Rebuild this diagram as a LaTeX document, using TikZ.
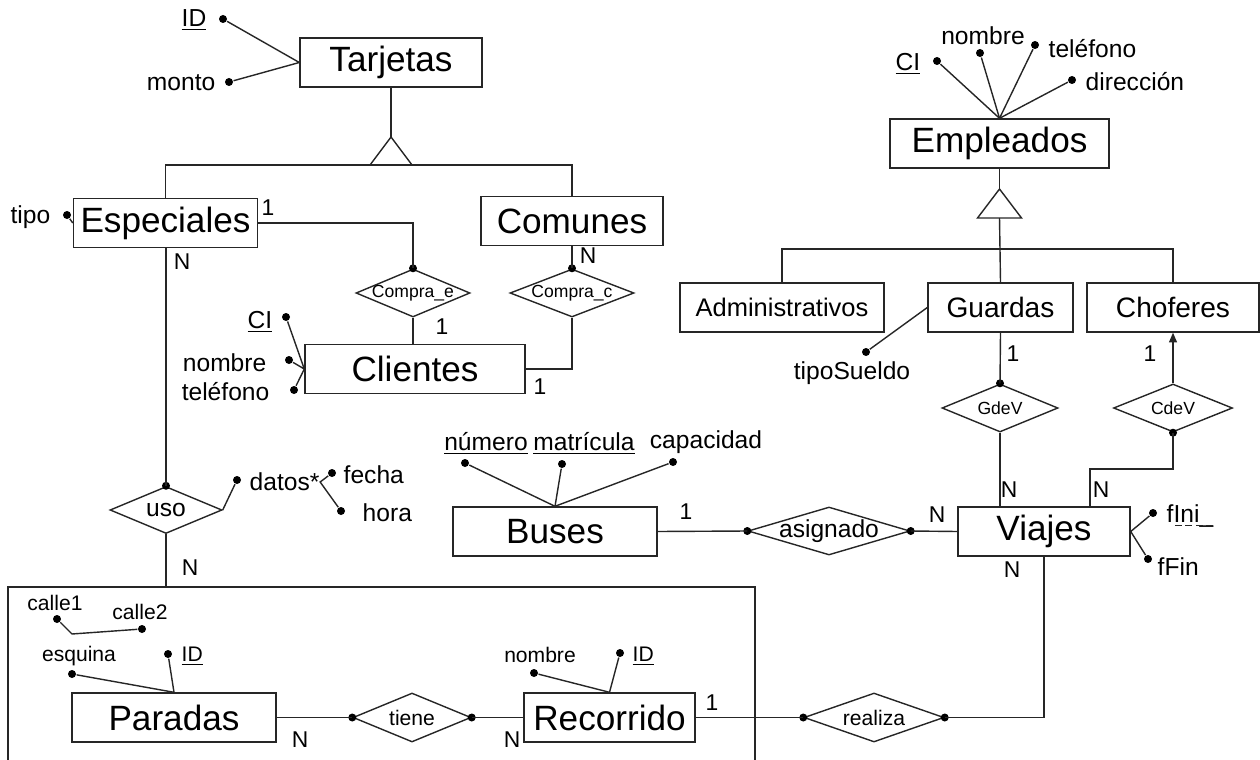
\documentclass[tikz,border=0pt]{standalone}
\usepackage{fontspec}
\setmainfont{Liberation Sans}
\usetikzlibrary{positioning,shapes.geometric,arrows.meta}

\def\px{0.02cm}

\begin{document}
\begin{tikzpicture}[x=\px,y=-\px,line width=0.8pt,draw=black!85,
	ent/.style={draw, rectangle, inner sep=0pt, minimum width=#1*\px, minimum height=49*\px, font=\fontsize{20}{24}\selectfont},
	sub/.style={draw, rectangle, inner sep=0pt, minimum width=#1*\px, minimum height=49*\px, font=\fontsize{16}{19}\selectfont},
	rel/.style 2 args={draw, diamond, inner sep=0pt, minimum width=#1*\px, minimum height=#2*\px, font=\fontsize{14}{16}\selectfont,
		execute at begin node={\hbox to 0pt\bgroup\hss}, execute at end node={\hss\egroup}},
	dot/.style={circle, fill=black, inner sep=0pt, minimum size=8*\px},
	lbl/.style={inner sep=0pt, font=\fontsize{14}{16}\selectfont},
	small/.style={inner sep=0pt, font=\fontsize{12}{14}\selectfont},
	card/.style={inner sep=0pt, font=\fontsize{13}{15}\selectfont}]
	\useasboundingbox (0,0) rectangle (1260,760);
	
	% Tarjetas y sus subtipos
	\node[ent=182] (tarjetas) at (391,62.5) {Tarjetas};
	\node[dot] (tIdD) at (223,19) {};
	\node[dot] (tMontoD) at (229,82) {};
	\node[lbl, anchor=east] (tId) at (207,20) {\underline{ID}};
	\node[lbl, anchor=east] (tMonto) at (216,83) {monto};
	\draw (tIdD) -- (tarjetas.west) (tMontoD) -- (tarjetas.west);
	
	\coordinate (isaT) at (391,137);
	\coordinate (isaTb) at (391,165);
	\draw (tarjetas.south) -- (isaT);
	\draw (isaT) -- ++(-21,28) -- ++(42,0) -- cycle;
	
	\node[ent=184] (especiales) at (165.5,223) {Especiales};
	\node[ent=182] (comunes) at (572,221) {Comunes};
	\draw (especiales.north) |- (isaTb) -| (comunes.north);
	\node[dot] (eTipoD) at (67,215) {};
	\node[lbl, anchor=east] (eTipo) at (51,217) {tipo};
	\draw (eTipoD) -- (especiales.west);
	
	% Clientes
	\node[ent=220] (clientes) at (415,369) {Clientes};
	\node[dot] (cCiD) at (286,317) {};
	\node[dot] (cNomD) at (289,360) {};
	\node[dot] (cTelD) at (294,390) {};
	\node[lbl, anchor=east] (cCi) at (273,322) {\underline{CI}};
	\node[lbl, anchor=east] (cNom) at (267,363) {nombre};
	\node[lbl, anchor=east] (cTel) at (270,392) {teléfono};
	\draw (cCiD) -- (clientes.west) (cNomD) -- (clientes.west) (cTelD) -- (clientes.west);
	
	\node[rel={114}{48}, font=\fontsize{10}{12}\selectfont] (compraE) at (413,293) {Compra\_e};
	\node[rel={124}{48}, font=\fontsize{10}{12}\selectfont] (compraC) at (572,293) {Compra\_c};
	\node[dot] (compraED) at (compraE.north) {};
	\node[dot] (compraCD) at (compraC.north) {};
	\draw (especiales.east) -| (compraE.north);
	\draw (compraE.south) -- (compraE.south |- clientes.north);
	\draw (clientes.east) -| (compraC.south);
	\draw (compraC.north) -- (comunes.south);
	
	% Empleados
	\node[ent=219] (empleados) at (999.5,143.5) {Empleados};
	\node[dot] (eCiD) at (937,61) {};
	\node[dot] (eNomD) at (980,53) {};
	\node[dot] (eTelD) at (1035,45) {};
	\node[dot] (eDirD) at (1072,80) {};
	\node[lbl, anchor=east] (eCi) at (921,64) {\underline{CI}};
	\node[lbl] (eNom) at (983,36) {nombre};
	\node[lbl, anchor=west] (eTel) at (1048,49) {teléfono};
	\node[lbl, anchor=west] (eDir) at (1085,82) {dirección};
	\foreach \a in {eCiD,eNomD,eTelD,eDirD} { \draw (\a) -- (empleados.north); }
	
	\coordinate (isaE) at (999.5,189);
	\coordinate (isaEb) at (999.5,218);
	\coordinate (isaEh) at (999.5,249);
	\draw (empleados.south) -- (isaE);
	\draw (isaE) -- ++(-22,29) -- ++(44,0) -- cycle;
	
	\node[sub=204, font=\fontsize{14.5}{17}\selectfont] (admin) at (782,307.5) {Administrativos};
	\node[sub=145] (guardas) at (1000.5,307.5) {Guardas};
	\node[sub=172] (choferes) at (1173,307.5) {Choferes};
	\draw (isaEb) -- (guardas.north);
	\draw (admin.north) |- (isaEh) -| (choferes.north);
	\node[dot] (gSueldoD) at (866,352) {};
	\node[lbl] (gSueldo) at (852,373) {tipoSueldo};
	\draw (gSueldoD) -- (guardas.west);
	
	\node[rel={116}{48}, font=\fontsize{10}{12}\selectfont] (gdev) at (1000,408) {GdeV};
	\node[rel={119}{48}, font=\fontsize{10}{12}\selectfont] (cdev) at (1173,408) {CdeV};
	\node[dot] (gdevD) at (gdev.north) {};
	\node[dot] (cdevD) at (cdev.south) {};
	\draw (guardas.south) -- (gdev.north);
	\draw[-{Triangle[length=5.5pt,width=4.5pt]}] (cdev.north) -- (choferes.south);
	
	% Viajes y Buses
	\node[ent=172] (viajes) at (1044,531.5) {Viajes};
	\coordinate (cBend) at (1090,469);
	\draw (gdev.south) -- (gdev.south |- viajes.north);
	\draw (cdev.south) |- (cBend) -- (cBend |- viajes.north);
	\node[dot] (vIniD) at (1153,513) {};
	\node[dot] (vFinD) at (1148,559) {};
	\node[lbl, anchor=west] (vIni) at (1166,516) {fIni\_};
	\node[lbl, anchor=west] (vFin) at (1157,567) {fFin};
	\draw[dashed, line width=0.6pt, dash pattern=on 4pt off 2pt] ([xshift=5pt,yshift=1.5pt]vIni.south west) -- ([yshift=1.5pt]vIni.south east);
	\draw (vIniD) -- (viajes.east) (vFinD) -- (viajes.east);
	
	\node[ent=204] (buses) at (555,531.5) {Buses};
	\node[dot] (bNumD) at (465,463) {};
	\node[dot] (bMatD) at (562,464) {};
	\node[dot] (bCapD) at (673,462) {};
	\node[lbl] (bNum) at (486,443) {\underline{número}};
	\node[lbl] (bMat) at (584,443) {\underline{matrícula}};
	\node[lbl] (bCap) at (706,442) {capacidad};
	\foreach \a in {bNumD,bMatD,bCapD} { \draw (\a) -- (buses.north); }
	
	\node[rel={162}{48}] (asignado) at (829,531) {asignado};
	\node[dot] (asigWD) at (asignado.west) {};
	\node[dot] (asigED) at (asignado.east) {};
	\draw (buses.east) -- (asignado.west) (asignado.east) -- (viajes.west);
	
	% uso
	\node[rel={112}{47}] (uso) at (166,510) {uso};
	\node[dot] (usoD) at (uso.north) {};
	\draw (uso.north |- especiales.south) -- (uso.north);
	\node[dot] (uDatosD) at (237,480) {};
	\node[lbl, anchor=west] (uDatos) at (249,482) {datos*};
	\node[dot] (uFechaD) at (332,473) {};
	\node[dot] (uHoraD) at (341,511) {};
	\node[lbl, anchor=west] (uFecha) at (343,475) {fecha};
	\node[lbl, anchor=west] (uHora) at (362,513) {hora};
	\draw (uso.east) -- (uDatosD);
	\draw (uFechaD) -- (uDatos.east) -- (uHoraD);
	
	% agregacion
	\coordinate (aggNW) at (8,587);
	\coordinate (aggNE) at (755,587);
	\draw (8,770) -- (aggNW) -- (aggNE) -- (755,770);
	\draw (uso.south) -- (uso.south |- aggNW);
	
	\node[ent=204] (paradas) at (174,717.5) {Paradas};
	\node[dot] (pCalle1D) at (57,619) {};
	\node[dot] (pCalle2D) at (142,629) {};
	\node[dot] (pEsqD) at (72,674) {};
	\node[dot] (pIdD) at (168,654) {};
	\node[small] (pCalle1) at (55,603) {calle1};
	\node[small] (pCalle2) at (140,612) {calle2};
	\node[small] (pEsq) at (79,656) {esquina};
	\node[small, anchor=west] (pId) at (181,656) {\underline{ID}};
	\coordinate (pCalleV) at (72,634);
	\draw (pCalle1D) -- (pCalleV) -- (pCalle2D);
	\draw (pEsqD) -- (paradas.north) (pIdD) -- (paradas.north);
	
	\node[rel={118}{49}, font=\fontsize{12}{14}\selectfont] (tiene) at (412,717.5) {tiene};
	\node[dot] (tieneWD) at (tiene.west) {};
	\node[dot] (tieneED) at (tiene.east) {};
	
	\node[ent=171] (recorrido) at (609.5,717.5) {Recorrido};
	\node[dot] (rNomD) at (534,673) {};
	\node[dot] (rIdD) at (620,653) {};
	\node[small] (rNom) at (540,655) {nombre};
	\node[small, anchor=west] (rId) at (632,656) {\underline{ID}};
	\draw (rNomD) -- (recorrido.north) (rIdD) -- (recorrido.north);
	\draw (paradas.east) -- (tiene.west) (tiene.east) -- (recorrido.west);
	
	\node[rel={140}{49}, font=\fontsize{12}{14}\selectfont] (realiza) at (874,717.5) {realiza};
	\node[dot] (realWD) at (realiza.west) {};
	\node[dot] (realED) at (realiza.east) {};
	\draw (recorrido.east) -- (realiza.west);
	\draw (realiza.east) -| (viajes.south);
	
	% cardinalidades
	\foreach \t/\x/\y [count=\k] in {1/268/208, 1/442/327, N/588/256, 1/540/387, N/182/262, N/190/568,
		1/1013/354, 1/1150/354, N/1009/490, N/1101/490, N/937/515, 1/686/512, N/1012/570,
		N/300/740, N/512/740, 1/712/703} {
		\node[card] (card\k) at (\x,\y) {\t};
	}
\end{tikzpicture}
\end{document}
